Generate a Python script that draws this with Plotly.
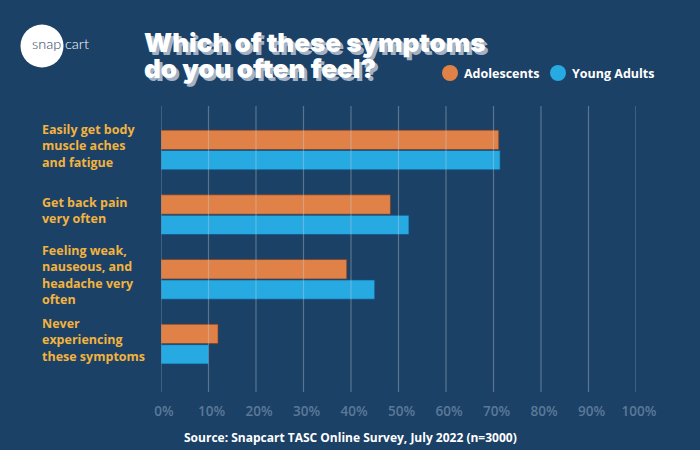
import plotly.graph_objects as go

# ---- data ----
categories = [
    "Easily get body muscle aches and fatigue",
    "Get back pain very often",
    "Feeling weak, nauseous, and headache very often",
    "Never experiencing these symptoms",
]
category_label_lines = [
    ["Easily get body", "muscle aches", "and fatigue"],
    ["Get back pain", "very often"],
    ["Feeling weak,", "nauseous, and", "headache very", "often"],
    ["Never", "experiencing", "these symptoms"],
]
series_names = ["Adolescents", "Young Adults"]
adolescents = [71.1, 48.3, 39.1, 12.0]
young_adults = [71.4, 52.2, 45.0, 10.0]
tick_values = [0, 10, 20, 30, 40, 50, 60, 70, 80, 90, 100]
tick_labels = [f"{v}%" for v in tick_values]
title_lines = ["Which of these symptoms", "do you often feel?"]
source_text = "Source: Snapcart TASC Online Survey, July 2022 (n=3000)"

# ---- style ----
W, H = 700, 450
L, R, T, B = 161, 64, 106, 58
PW, PH = W - L - R, H - T - B
BG = "#1C4166"
ORANGE = "#E08247"
BLUE = "#27A9E1"
LABEL_COLOR = "#F2B33F"
GRID = "rgba(200,215,230,0.35)"
SANS = "Open Sans, Roboto, sans-serif"


def px_x(p):
    return (p - L) / PW


def px_y(p):
    return (H - B - p) / PH


fig = go.Figure()
fig.add_trace(go.Bar(
    y=categories, x=adolescents, orientation="h", name=series_names[0],
    marker=dict(color=ORANGE, line=dict(color="rgba(120,60,30,0.6)", width=1)),
    showlegend=False, hoverinfo="x+y",
))
fig.add_trace(go.Bar(
    y=categories, x=young_adults, orientation="h", name=series_names[1],
    marker=dict(color=BLUE, line=dict(color="rgba(15,80,130,0.7)", width=1)),
    showlegend=False, hoverinfo="x+y",
))

# gridlines drawn above bars (from tick values)
for v in tick_values:
    fig.add_shape(type="line", xref="x", yref="paper", x0=v, x1=v, y0=0, y1=1,
                  line=dict(color=GRID, width=1.2), layer="above")

# category labels (left aligned)
for cat, lines in zip(categories, category_label_lines):
    fig.add_annotation(
        xref="paper", yref="y", x=px_x(41), y=cat, text="<br>".join(lines),
        xanchor="left", yanchor="middle", align="left", showarrow=False,
        borderpad=0, yshift=4,
        font=dict(family=SANS, size=12.5, color=LABEL_COLOR, weight="bold"),
    )

# manual legend with circle markers
for name, col, cx in [(series_names[0], ORANGE, 450), (series_names[1], BLUE, 558)]:
    fig.add_shape(type="circle", xref="paper", yref="paper",
                  xsizemode="pixel", ysizemode="pixel",
                  xanchor=px_x(cx), yanchor=px_y(73),
                  x0=-8, x1=8, y0=-8, y1=8,
                  fillcolor=col, line=dict(width=0), layer="above")
    fig.add_annotation(xref="paper", yref="paper", x=px_x(cx + 12), y=px_y(73),
                       text=name, xanchor="left", yanchor="middle", showarrow=False,
                       font=dict(family=SANS, size=12.5, color="white", weight="bold"))

# logo
fig.add_shape(type="circle", xref="paper", yref="paper",
              xsizemode="pixel", ysizemode="pixel",
              xanchor=px_x(42), yanchor=px_y(46),
              x0=-21.5, x1=21.5, y0=-21.5, y1=21.5,
              fillcolor="white", line=dict(width=0), layer="above")
fig.add_annotation(xref="paper", yref="paper", x=px_x(63), y=px_y(44),
                   text="snap", xanchor="right", yanchor="middle", showarrow=False,
                   font=dict(family="Lato, sans-serif", size=14.5, color="#1C4166",
                             weight=300))
fig.add_annotation(xref="paper", yref="paper", x=px_x(63), y=px_y(44),
                   text="cart", xanchor="left", yanchor="middle", showarrow=False,
                   font=dict(family="Lato, sans-serif", size=14.5, color="white",
                             weight=300))

# title (two lines, tight spacing)
for i, line in enumerate(title_lines):
    fig.add_annotation(
        xref="paper", yref="paper", x=px_x(143), y=px_y(26 + i * 26),
        text=line, xanchor="left", yanchor="top", align="left", showarrow=False,
        borderpad=0,
        font=dict(family="Inter, sans-serif", size=26, color="white", weight=900,
                  shadow="3px 3px 0px #A3B2C4"),
    )

# source
fig.add_annotation(
    xref="paper", yref="paper", x=px_x(350), y=px_y(437),
    text=source_text, xanchor="center", yanchor="middle", showarrow=False,
    font=dict(family=SANS, size=12, color="white", weight="bold"),
)

fig.update_layout(
    width=W, height=H,
    margin=dict(l=L, r=R, t=T, b=B, pad=0),
    paper_bgcolor=BG, plot_bgcolor=BG,
    barmode="group", bargap=0.37, bargroupgap=0.05,
    showlegend=False,
    xaxis=dict(
        range=[0, 100], tickvals=tick_values, ticktext=tick_labels,
        showgrid=False, zeroline=False, showline=False, ticks="",
        ticklabelstandoff=9, ticklabelshift=3,
        tickfont=dict(family=SANS, size=13.5, color="#5A7998", weight=600),
        fixedrange=True,
    ),
    yaxis=dict(
        type="category", categoryorder="array", categoryarray=categories,
        range=[3.74, -0.68], showticklabels=False, showgrid=False,
        zeroline=False, showline=False, ticks="", fixedrange=True,
    ),
)

fig.write_html("out.html", config={"displayModeBar": False})
